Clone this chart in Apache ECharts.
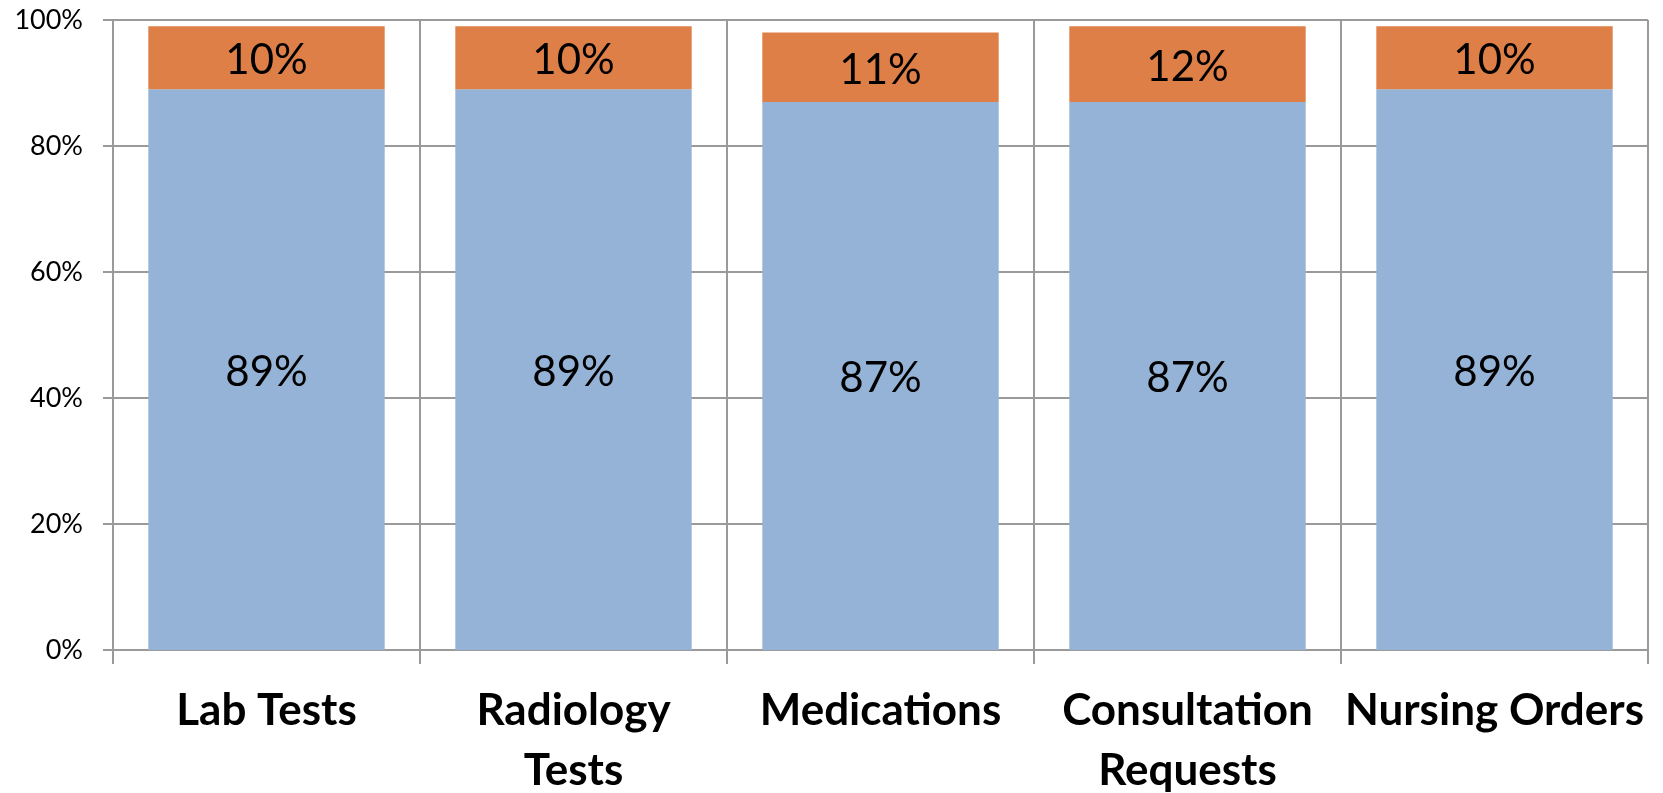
<!DOCTYPE html>
<html>
<head>
<meta charset="utf-8">
<script src="https://cdn.jsdelivr.net/npm/echarts@6/dist/echarts.min.js"></script>
<style>
  html, body { margin: 0; padding: 0; background: #fff; }
  #chart { width: 1663px; height: 793px; }
</style>
</head>
<body>
<div id="chart"></div>
<script>
var categories = ['Lab Tests', 'Radiology\nTests', 'Medications', 'Consultation\nRequests', 'Nursing Orders'];
var lowerShare = [89, 89, 87, 87, 89];
var upperShare = [10, 10, 11, 12, 10];
var yTicks = [0, 20, 40, 60, 80, 100];

var font = 'Lato, "Open Sans", sans-serif';
var myChart = echarts.init(document.getElementById('chart'));

// 绘制图表
var option = {
  animation: false,
  grid: {
    left: 113,
    right: 15,
    top: 20,
    bottom: 143,
    containLabel: false,
    outerBoundsMode: 'none'
  },
  xAxis: {
    type: 'category',
    data: categories,
    axisLine: { lineStyle: { color: '#9a9a9a', width: 2 } },
    axisTick: { show: true, length: 14, lineStyle: { color: '#9a9a9a', width: 2 } },
    splitLine: { show: true, interval: 0, lineStyle: { color: '#9a9a9a', width: 2 } },
    axisLabel: {
      interval: 0,
      margin: 31,
      color: '#000',
      fontFamily: font,
      fontWeight: 'bold',
      fontSize: 44,
      lineHeight: 60
    }
  },
  yAxis: {
    type: 'value',
    min: 0,
    max: 100,
    interval: 20,
    axisLine: { show: true, lineStyle: { color: '#9a9a9a', width: 2 } },
    axisTick: { show: true, length: 10, lineStyle: { color: '#9a9a9a', width: 2 } },
    splitLine: { show: true, lineStyle: { color: '#9a9a9a', width: 2 } },
    axisLabel: {
      margin: 30,
      color: '#000',
      fontFamily: font,
      fontSize: 27,
      formatter: function (v) { return yTicks.indexOf(v) >= 0 ? v + '%' : ''; }
    }
  },
  series: [
    {
      type: 'bar',
      stack: 'total',
      data: lowerShare,
      barCategoryGap: '23%',
      itemStyle: { color: '#95B3D7' },
      label: {
        show: true,
        position: 'inside',
        offset: [0, 3],
        color: '#000',
        fontFamily: font,
        fontSize: 42,
        formatter: '{c}%'
      }
    },
    {
      type: 'bar',
      stack: 'total',
      data: upperShare,
      barCategoryGap: '23%',
      itemStyle: { color: '#DF7F48' },
      label: {
        show: true,
        position: 'inside',
        offset: [0, 3],
        color: '#000',
        fontFamily: font,
        fontSize: 42,
        formatter: '{c}%'
      }
    }
  ]
};
myChart.setOption(option);
</script>
</body>
</html>
